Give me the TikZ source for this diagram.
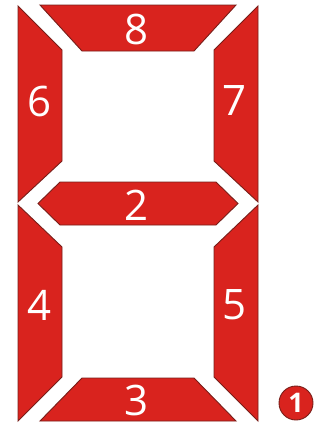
\documentclass[tikz,border=0pt]{standalone}
\usepackage{fontspec}
\setmainfont{Open Sans}
\definecolor{segred}{RGB}{217,35,30}
\definecolor{segedge}{RGB}{120,30,25}
\begin{document}
\begin{tikzpicture}[x=1pt,y=-1pt,
  seg/.style={fill=segred,draw=segedge,line width=0.9pt,line join=miter},
  lbl/.style={text=white,font=\fontsize{42}{42}\selectfont,inner sep=0pt},
  dot/.style={circle,fill=segred,draw=segedge,line width=0.9pt,minimum size=34pt,inner sep=0pt,text=white,font=\fontsize{27}{27}\selectfont\bfseries}]
\useasboundingbox (0,0) rectangle (321,423);
% segments
\draw[seg] (40,5) -- (236,5) -- (194,51) -- (82,51) -- cycle;
\draw[seg] (18,6) -- (62,50) -- (62,161) -- (18,202) -- cycle;
\draw[seg] (258,6) -- (214,50) -- (214,161) -- (258,202) -- cycle;
\draw[seg] (38,203.5) -- (60,182) -- (216,182) -- (238,203.5) -- (216,225) -- (60,225) -- cycle;
\draw[seg] (18,205) -- (62,247) -- (62,377) -- (18,421) -- cycle;
\draw[seg] (258,205) -- (214,247) -- (214,377) -- (258,421) -- cycle;
\draw[seg] (82,378) -- (194,378) -- (236,421) -- (40,421) -- cycle;
% labels
\node[lbl] (l8) at (137,29) {8};
\node[lbl] (l6) at (40,101) {6};
\node[lbl] (l7) at (235,101) {7};
\node[lbl] (l2) at (137,205) {2};
\node[lbl] (l4) at (40,305) {4};
\node[lbl] (l5) at (235,305) {5};
\node[lbl] (l3) at (137,400) {3};
\node[dot] (d1) at (296,403) {1};
\end{tikzpicture}
\end{document}
